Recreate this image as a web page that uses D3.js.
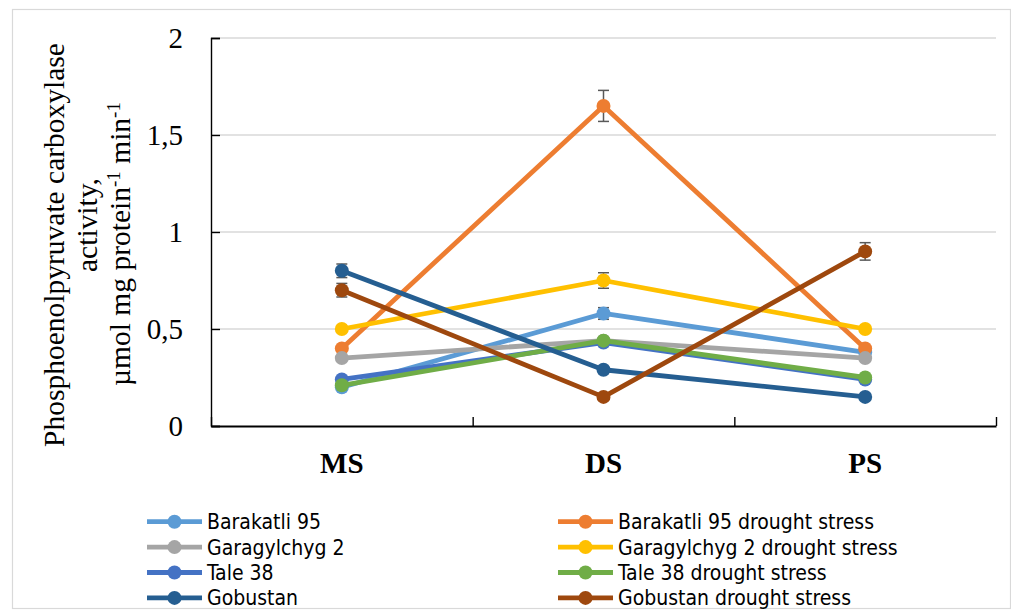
<!DOCTYPE html>
<html>
<head>
<meta charset="utf-8">
<script src="https://cdn.jsdelivr.net/npm/d3@7"></script>
<style>
  body { margin: 0; background: white; }
</style>
</head>
<body>
<div id="root"></div>
<script>
// categories on the x axis
const categories = ["MS", "DS", "PS"];

// y ticks and their labels (decimal comma as in the original)
const yTicks = [0, 0.5, 1, 1.5, 2];
const yTickLabels = ["0", "0,5", "1", "1,5", "2"];

// series names, in legend order
const seriesNames = [
  "Barakatli 95", "Barakatli 95 drought stress",
  "Garagylchyg 2", "Garagylchyg 2 drought stress",
  "Tale 38", "Tale 38 drought stress",
  "Gobustan", "Gobustan drought stress"
];

// series values (MS, DS, PS)
const barakatli95 = [0.20, 0.58, 0.38];
const barakatli95Drought = [0.40, 1.65, 0.40];
const garagylchyg2 = [0.35, 0.44, 0.35];
const garagylchyg2Drought = [0.50, 0.75, 0.50];
const tale38 = [0.24, 0.43, 0.24];
const tale38Drought = [0.21, 0.44, 0.25];
const gobustan = [0.80, 0.29, 0.15];
const gobustanDrought = [0.70, 0.15, 0.90];

// error bar half-widths (MS, DS, PS)
const barakatli95Err = [0.01, 0.03, 0.01];
const barakatli95DroughtErr = [0.01, 0.08, 0.01];
const garagylchyg2Err = [0.01, 0.01, 0.01];
const garagylchyg2DroughtErr = [0.01, 0.04, 0.01];
const tale38Err = [0.01, 0.01, 0.01];
const tale38DroughtErr = [0.01, 0.01, 0.01];
const gobustanErr = [0.035, 0.01, 0.01];
const gobustanDroughtErr = [0.035, 0.01, 0.045];

const seriesValues = [barakatli95, barakatli95Drought, garagylchyg2, garagylchyg2Drought,
  tale38, tale38Drought, gobustan, gobustanDrought];
const seriesErrors = [barakatli95Err, barakatli95DroughtErr, garagylchyg2Err, garagylchyg2DroughtErr,
  tale38Err, tale38DroughtErr, gobustanErr, gobustanDroughtErr];

const colors = ["#5B9BD5", "#ED7D31", "#A5A5A5", "#FFC000",
  "#4472C4", "#70AD47", "#255E91", "#9E480E"];

//svg canvas
const width = 1011;
const height = 614;
const svg = d3.select("#root")
  .append("svg")
  .attr("width", width)
  .attr("height", height);

const serif = "'Liberation Serif', 'Times New Roman', serif";
const legendFont = "'DejaVu Sans Condensed', 'DejaVu Sans', sans-serif";

//outer chart frame
svg.append("rect")
  .attr("x", 12.5)
  .attr("y", 9.5)
  .attr("width", 998)
  .attr("height", 599)
  .attr("fill", "none")
  .attr("stroke", "#d9d9d9")
  .attr("stroke-width", 1.2);

//plot area
const plotLeft = 211, plotRight = 996, plotTop = 38, plotBottom = 426;

const x = d3.scaleBand().domain(categories).range([plotLeft, plotRight]).padding(0);
const y = d3.scaleLinear().domain([0, 2]).range([plotBottom, plotTop]);

//gridlines
svg.append("g")
  .selectAll("line")
  .data(yTicks.filter(d => d > 0))
  .enter()
  .append("line")
  .attr("x1", plotLeft)
  .attr("x2", plotRight)
  .attr("y1", d => y(d))
  .attr("y2", d => y(d))
  .attr("stroke", "#d9d9d9")
  .attr("stroke-width", 1.6);

//y axis, ticks pointing inward
const yAxis = d3.axisRight(y)
  .tickValues(yTicks)
  .tickSize(9)
  .tickFormat("");
const yG = svg.append("g")
  .attr("transform", "translate(" + plotLeft + ",0)")
  .call(yAxis);
yG.select(".domain").attr("stroke", "#000").attr("stroke-width", 1.4);
yG.selectAll(".tick line").attr("stroke", "#000").attr("stroke-width", 1.4);

//y tick labels
svg.append("g")
  .selectAll("text")
  .data(yTicks)
  .enter()
  .append("text")
  .attr("x", 183)
  .attr("y", d => y(d) + 10)
  .attr("text-anchor", "end")
  .style("font-family", serif)
  .style("font-size", "29px")
  .text((d, i) => yTickLabels[i]);

//x axis, ticks at band edges pointing inward
const xEdges = d3.scaleLinear().domain([0, categories.length]).range([plotLeft, plotRight]);
const xAxis = d3.axisTop(xEdges)
  .tickValues(d3.range(categories.length + 1))
  .tickSize(9)
  .tickSizeOuter(0)
  .tickFormat("");
const xG = svg.append("g")
  .attr("transform", "translate(0," + plotBottom + ")")
  .call(xAxis);
xG.select(".domain").attr("stroke", "#000").attr("stroke-width", 2.2);
xG.selectAll(".tick line").attr("stroke", "#000").attr("stroke-width", 1.4);

//x category labels
svg.append("g")
  .selectAll("text")
  .data(categories)
  .enter()
  .append("text")
  .attr("x", d => x(d) + x.bandwidth() / 2)
  .attr("y", 473)
  .attr("text-anchor", "middle")
  .style("font-family", serif)
  .style("font-size", "29px")
  .style("font-weight", "bold")
  .text(d => d);

//y axis title, three rotated lines
function titleLine(bx, cy) {
  return svg.append("text")
    .attr("transform", "translate(" + bx + "," + cy + ") rotate(-90)")
    .attr("text-anchor", "middle")
    .style("font-family", serif)
    .style("font-size", "29.5px");
}
titleLine(64, 245).text("Phosphoenolpyruvate carboxylase");
titleLine(97, 225).text("activity,");
const t3 = titleLine(130, 244);
t3.append("tspan").text("µmol mg protein");
t3.append("tspan").attr("baseline-shift", "super").style("font-size", "19px").text("-1");
t3.append("tspan").text(" min");
t3.append("tspan").attr("baseline-shift", "super").style("font-size", "19px").text("-1");

//series: error bars, line, markers
const line = d3.line()
  .x((d, i) => x(categories[i]) + x.bandwidth() / 2)
  .y(d => y(d));

seriesValues.forEach(function(vals, s) {
  const g = svg.append("g");
  const errs = seriesErrors[s];

  vals.forEach(function(v, i) {
    const cx = x(categories[i]) + x.bandwidth() / 2;
    const top = y(v + errs[i]);
    const bot = y(v - errs[i]);
    g.append("line").attr("x1", cx).attr("x2", cx).attr("y1", top).attr("y2", bot)
      .attr("stroke", "#595959").attr("stroke-width", 1.5);
    [top, bot].forEach(function(yy) {
      g.append("line").attr("x1", cx - 5.5).attr("x2", cx + 5.5).attr("y1", yy).attr("y2", yy)
        .attr("stroke", "#595959").attr("stroke-width", 1.5);
    });
  });

  g.append("path")
    .datum(vals)
    .attr("d", line)
    .attr("fill", "none")
    .attr("stroke", colors[s])
    .attr("stroke-width", 4.8)
    .attr("stroke-linejoin", "round");

  g.selectAll("circle")
    .data(vals)
    .enter()
    .append("circle")
    .attr("cx", (d, i) => x(categories[i]) + x.bandwidth() / 2)
    .attr("cy", d => y(d))
    .attr("r", 7)
    .attr("fill", colors[s]);
});

//legend, two columns of four rows
const legendCols = [147, 558];
const legendRow0 = 521.7;
const legendStep = 25.4;

const legend = svg.append("g")
  .selectAll("g")
  .data(seriesNames)
  .enter()
  .append("g")
  .attr("transform", (d, i) =>
    "translate(" + legendCols[i % 2] + "," + (legendRow0 + Math.floor(i / 2) * legendStep) + ")");

legend.append("line")
  .attr("x1", 0).attr("x2", 55)
  .attr("y1", 0).attr("y2", 0)
  .attr("stroke", (d, i) => colors[i])
  .attr("stroke-width", 4.8);

legend.append("circle")
  .attr("cx", 27.5)
  .attr("cy", 0)
  .attr("r", 7)
  .attr("fill", (d, i) => colors[i]);

legend.append("text")
  .attr("x", 60)
  .attr("y", 7.5)
  .style("font-family", legendFont)
  .style("font-stretch", "condensed")
  .style("font-size", "21px")
  .text(d => d);
</script>
</body>
</html>
